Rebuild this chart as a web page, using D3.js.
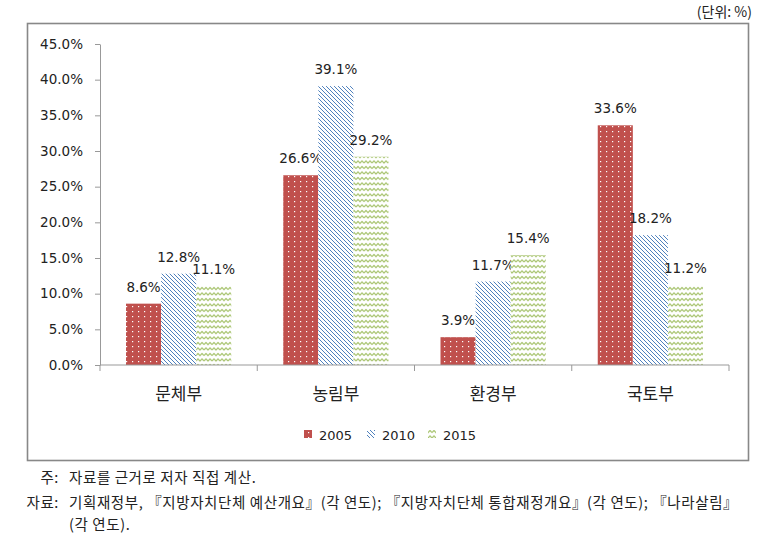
<!DOCTYPE html>
<html>
<head>
<meta charset="utf-8">
<script src="https://cdn.jsdelivr.net/npm/d3@7"></script>
<style>
  body { margin: 0; background: #fff; }
  svg { display: block; }
  .num { font-family: "DejaVu Sans", Verdana, sans-serif; font-size: 13.5px; fill: #222; }
  .kr { font-family: "Noto Sans CJK KR", sans-serif; fill: #222; }
</style>
</head>
<body>
<div id="chart"></div>
<script>
// data
var categories = ["문체부", "농림부", "환경부", "국토부"];
var years = ["2005", "2010", "2015"];
var values2005 = [8.6, 26.6, 3.9, 33.6];
var values2010 = [12.8, 39.1, 11.7, 18.2];
var values2015 = [11.1, 29.2, 15.4, 11.2];
var yTicks = [0, 5, 10, 15, 20, 25, 30, 35, 40, 45];
var noteLines = [
  ["주:", "자료를 근거로 저자 직접 계산."],
  ["자료:", "기획재정부, 『지방자치단체 예산개요』(각 연도); 『지방자치단체 통합재정개요』(각 연도); 『나라살림』"],
  ["", "(각 연도)."]
];

var series = [values2005, values2010, values2015];
var fills = ["url(#pRed)", "url(#pBlue)", "url(#pGreen)"];

var svgWidth = 774, svgHeight = 545;
var margin = {top: 44, right: 45, bottom: 180, left: 100};
var width = svgWidth - margin.left - margin.right;   // 629
var height = 365 - margin.top;                        // 321

var svg = d3.select("#chart").append("svg")
  .attr("width", svgWidth)
  .attr("height", svgHeight);

// patterns
var defs = svg.append("defs");
var pr = defs.append("pattern").attr("id", "pRed")
  .attr("patternUnits", "userSpaceOnUse").attr("width", 6).attr("height", 5);
pr.append("rect").attr("width", 6).attr("height", 5).attr("fill", "#C0504D");
pr.append("rect").attr("x", 2).attr("y", 2).attr("width", 1.2).attr("height", 1.2).attr("fill", "#fff");

var pb = defs.append("pattern").attr("id", "pBlue")
  .attr("patternUnits", "userSpaceOnUse").attr("width", 4).attr("height", 4);
pb.append("rect").attr("width", 4).attr("height", 4).attr("fill", "#fff");
pb.append("path").attr("d", "M0,0 L4,4 M-1,3 L1,5 M3,-1 L5,1")
  .attr("stroke", "#4F81BD").attr("stroke-width", 1);

var pg = defs.append("pattern").attr("id", "pGreen")
  .attr("patternUnits", "userSpaceOnUse").attr("width", 8).attr("height", 5.5);
pg.append("rect").attr("width", 8).attr("height", 5.5).attr("fill", "#fff");
pg.append("path").attr("d", "M0,3.5 L2,1.5 L4,3.5 L6,1.5 L8,3.5")
  .attr("fill", "none").attr("stroke", "#9BBB59").attr("stroke-width", 1.1);

// unit label
svg.append("text").attr("class", "kr")
  .attr("x", 752).attr("y", 17)
  .attr("text-anchor", "end")
  .style("font-size", "14px")
  .text("(단위: %)");

// chart frame
svg.append("rect")
  .attr("x", 27.5).attr("y", 23.5)
  .attr("width", 721).attr("height", 437)
  .attr("fill", "none").attr("stroke", "#888").attr("stroke-width", 1.6);

var chartGroup = svg.append("g")
  .attr("transform", `translate(${margin.left}, ${margin.top})`);

var x0 = d3.scaleBand().domain(categories).range([0, width]).padding(0);
var x1 = d3.scaleBand().domain(years).range([26, x0.bandwidth() - 26]).padding(0);
var y = d3.scaleLinear().domain([0, 45]).range([height, 0]);

// y axis
var leftAxis = d3.axisLeft(y).tickValues(yTicks).tickSize(5).tickSizeOuter(0)
  .tickFormat(d => d.toFixed(1) + "%");
var ya = chartGroup.append("g").call(leftAxis);
ya.select(".domain").attr("stroke", "#999");
ya.selectAll(".tick line").attr("stroke", "#999");
ya.selectAll(".tick text").attr("class", "num").attr("x", -17).attr("font-size", null).attr("font-family", null);

// bars
categories.forEach(function(cat, i) {
  years.forEach(function(yr, j) {
    var v = series[j][i];
    var bx = x0(cat) + x1(yr);
    chartGroup.append("rect")
      .attr("x", bx)
      .attr("y", y(v))
      .attr("width", x1.bandwidth())
      .attr("height", height - y(v))
      .attr("fill", fills[j]);
    chartGroup.append("text")
      .attr("class", "num")
      .attr("x", bx + x1.bandwidth() / 2)
      .attr("y", y(v) - 12)
      .attr("text-anchor", "middle")
      .text(v.toFixed(1) + "%");
  });
});

// x axis: ticks between categories
var xa = chartGroup.append("g").attr("transform", `translate(0, ${height})`);
xa.append("line").attr("x1", 0).attr("x2", width).attr("stroke", "#999");
var bounds = categories.map(c => x0(c)).concat([width]);
xa.selectAll(".bt").data(bounds).enter().append("line")
  .attr("x1", d => d).attr("x2", d => d).attr("y1", 0).attr("y2", 6)
  .attr("stroke", "#999");
xa.selectAll(".cl").data(categories).enter().append("text")
  .attr("class", "kr")
  .attr("x", d => x0(d) + x0.bandwidth() / 2)
  .attr("y", 35)
  .attr("text-anchor", "middle")
  .style("font-size", "17px")
  .text(d => d);

// legend
var legendX = [304, 367, 428];
var lg = svg.append("g");
years.forEach(function(yr, j) {
  lg.append("rect")
    .attr("x", legendX[j]).attr("y", 430)
    .attr("width", 8).attr("height", 8)
    .attr("fill", fills[j]);
  lg.append("text").attr("class", "num")
    .attr("x", legendX[j] + 15).attr("y", 439.5)
    .style("font-size", "13px")
    .text(yr);
});

// notes
var noteY = [483, 508, 530];
noteLines.forEach(function(n, i) {
  svg.append("text").attr("class", "kr")
    .attr("x", 59).attr("y", noteY[i])
    .attr("text-anchor", "end")
    .style("font-size", "14.5px")
    .style("letter-spacing", "0.6px")
    .text(n[0]);
  svg.append("text").attr("class", "kr")
    .attr("x", 69).attr("y", noteY[i])
    .style("font-size", "14.5px")
    .style("letter-spacing", "0.6px")
    .text(n[1]);
});
</script>
</body>
</html>
